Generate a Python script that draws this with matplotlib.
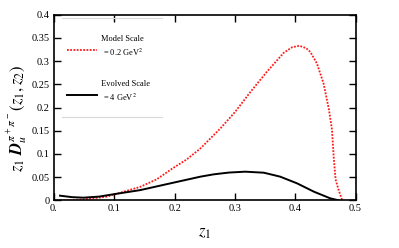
import matplotlib
matplotlib.use("Agg")
import matplotlib.pyplot as plt

plt.rcParams['font.family'] = ['Liberation Serif', 'DejaVu Serif']
plt.rcParams['mathtext.fontset'] = 'stix'

# Model scale (0.2 GeV^2), red dotted
z_model = [0.01, 0.03, 0.05, 0.0875, 0.10, 0.143, 0.17, 0.198, 0.22, 0.243, 0.276,
           0.30, 0.326, 0.353, 0.381, 0.395, 0.407, 0.418, 0.425, 0.436, 0.447,
           0.456, 0.461, 0.464, 0.467, 0.472, 0.478]
d_model = [0.0, 0.0005, 0.002, 0.0078, 0.0125, 0.029, 0.045, 0.070, 0.088, 0.112, 0.155,
           0.19, 0.234, 0.277, 0.318, 0.330, 0.333, 0.328, 0.320, 0.295, 0.252,
           0.195, 0.152, 0.09, 0.045, 0.022, 0.0]

# Evolved scale (4 GeV^2), black solid
z_evol = [0.01, 0.03, 0.049, 0.075, 0.0985, 0.143, 0.198, 0.243, 0.265, 0.29, 0.317,
          0.348, 0.375, 0.403, 0.431, 0.458, 0.472]
d_evol = [0.010, 0.0068, 0.0057, 0.008, 0.013, 0.022, 0.038, 0.051, 0.056, 0.0598, 0.0617,
          0.0595, 0.051, 0.0366, 0.0186, 0.0043, 0.0]

xticks = [0.0, 0.1, 0.2, 0.3, 0.4, 0.5]
xticklabels = ['0.', '0.1', '0.2', '0.3', '0.4', '0.5']
yticks = [0, 0.05, 0.1, 0.15, 0.2, 0.25, 0.3, 0.35, 0.4]
yticklabels = ['0', '0.05', '0.1', '0.15', '0.2', '0.25', '0.3', '0.35', '0.4']

fig = plt.figure(figsize=(3.99, 2.48), dpi=100)
ax = fig.add_axes([0.1353, 0.1923, 0.7557, 0.7484])

ax.plot(z_model, d_model, color='#ff1a1a', lw=1.3, linestyle=(0, (1, 0.8)))
ax.plot(z_evol, d_evol, color='black', lw=1.4)

ax.set_xlim(0, 0.5)
ax.set_ylim(0, 0.4)
ax.set_xticks(xticks)
ax.set_xticklabels(xticklabels)
ax.set_yticks(yticks)
ax.set_yticklabels(yticklabels)
ax.tick_params(direction='in', length=5, width=1, labelsize=7.5, top=True, right=True, pad=3)
for s in ax.spines.values():
    s.set_linewidth(1.2)

ax.set_xlabel(r'$z_1$', fontsize=12, labelpad=8)
ax.set_ylabel(r'$z_1\ \mathbfit{D}_u^{\,\pi^+\pi^-}(z_1, z_2)$', fontsize=12)
ax.yaxis.set_label_coords(-0.08, 0.44)

# legend (manual)
def ax_xy(px, py):
    return ((px - 54) / 301.5, (200.3 - py) / 185.6)

for py in (18, 117):
    x0, y0 = ax_xy(62, py)
    x1, _ = ax_xy(162, py)
    ax.plot([x0, x1], [y0, y0], transform=ax.transAxes, color='#d9d9d9', lw=0.8, clip_on=False)

x0, y0 = ax_xy(67, 50); x1, _ = ax_xy(97, 50)
ax.plot([x0, x1], [y0, y0], transform=ax.transAxes, color='#ff1a1a', lw=1.3, linestyle=(0, (1, 0.8)))
x0, y0 = ax_xy(67, 95); x1, _ = ax_xy(97, 95)
ax.plot([x0, x1], [y0, y0], transform=ax.transAxes, color='black', lw=1.4)

for txt, px, py in [('Model Scale', 101, 39), (r'= 0.2 GeV$^2$', 103, 52),
                    ('Evolved Scale', 101, 84), (r'= 4 GeV$^2$', 103, 97)]:
    tx, ty = ax_xy(px, py)
    ax.text(tx, ty, txt, transform=ax.transAxes, fontsize=6, va='center', ha='left')

fig.savefig('out.png', dpi=100)
